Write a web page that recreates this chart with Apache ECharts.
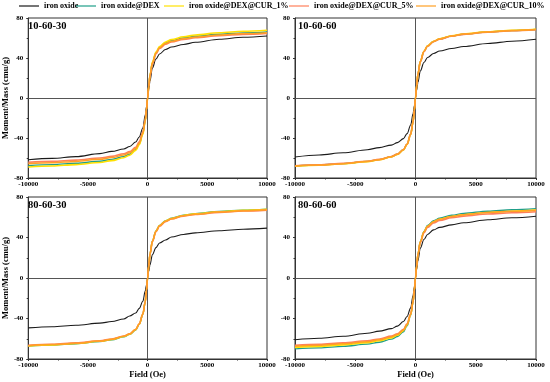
<!DOCTYPE html>
<html>
<head>
<meta charset="utf-8">
<script src="https://cdn.jsdelivr.net/npm/echarts@6/dist/echarts.min.js"></script>
<style>html,body{margin:0;padding:0;background:#fff}#c{width:550px;height:382px}</style>
</head>
<body>
<div id="c"></div>
<script>
const seriesNames = ['iron oxide','iron oxide@DEX','iron oxide@DEX@CUR_1%','iron oxide@DEX@CUR_5%','iron oxide@DEX@CUR_10%'];
const panelTitles = ['10-60-30','10-60-60','80-60-30','80-60-60'];
const xTicks = [-10000,-5000,0,5000,10000];
const yTicks = [-80,-40,0,40,80];
const field = [-10000,-8000,-6000,-4000,-3000,-2000,-1500,-1000,-700,-400,-200,-100,0,100,200,400,700,1000,1500,2000,3000,4000,6000,8000,10000];

// Panel 10-60-30
const p1_iron  = [-61.8,-60.4,-58.6,-55.6,-53.4,-51,-48.5,-44,-39,-30,-17,-9,0,9,17,30,39,44,48.5,51,53.5,55.7,58.8,60.7,62];
const p1_dex   = [-67.6,-66.6,-65.2,-63.2,-61.4,-58.6,-56.2,-51.5,-46,-35.5,-23,-12,0,12,23,35,45,50.5,55,57.3,60,61.7,63.8,65.1,66];
const p1_cur1  = [-69,-68,-66.6,-64.5,-62.6,-59.7,-57.2,-52.4,-46.8,-36.5,-23.5,-12,0,12,23.5,36,46,51.5,56,58.5,61.2,63,65.2,66.7,67.8];
const p1_cur5  = [-64.3,-63.4,-62.1,-60,-58.4,-55.8,-53.6,-49.3,-43.8,-34,-22,-11.5,0,11.5,22,34,44,49.5,53.8,56,58.6,60.2,62.3,63.6,64.5];
const p1_cur10 = [-65.7,-64.8,-63.4,-61.3,-59.6,-57.1,-54.8,-50.5,-45.2,-35.2,-23,-12,0,12,23,35,45,50.3,54.5,56.8,59.3,60.9,63,64.4,65.3];

// Panel 10-60-60
const p2_iron  = [-59,-57,-54.8,-51.7,-49.6,-47.1,-44.6,-40.6,-35.6,-27,-15.5,-8,0,8,15.5,27,35.5,40.5,44.5,47,49.5,51.5,54.5,56.8,58.7];
const p2_dex   = [-68,-67,-65.6,-63.4,-61.6,-58.7,-56.2,-51.7,-46.2,-36.3,-24,-12.5,0,12.5,24,36.5,46.5,52,56.5,59,62,63.8,66,67.4,68.5];
const p2_cur1  = [-68.2,-67.2,-65.8,-63.6,-61.8,-58.9,-56.4,-51.9,-46.4,-36.5,-24.2,-12.6,0,12.6,24.2,36.7,46.7,52.2,56.7,59.2,62.2,64,66.2,67.6,68.7];
const p2_cur5  = [-67.8,-66.8,-65.4,-63.2,-61.4,-58.5,-56,-51.5,-46,-36.1,-23.8,-12.4,0,12.4,23.8,36.3,46.3,51.8,56.3,58.8,61.8,63.6,65.8,67.2,68.3];
const p2_cur10 = [-68.1,-67.1,-65.7,-63.5,-61.7,-58.8,-56.3,-51.8,-46.3,-36.4,-24.1,-12.5,0,12.5,24.1,36.6,46.6,52.1,56.6,59.1,62.1,63.9,66.1,67.5,68.6];

// Panel 80-60-30
const p3_iron  = [-49.3,-48.2,-46.7,-44.6,-43,-40.5,-37.5,-34.5,-30,-23,-13,-7,0,7,13,23,30,34.5,37.5,40.5,43,44.6,46.7,48.2,49.3];
const p3_dex   = [-67.3,-66.3,-64.9,-62.8,-61,-58.1,-55.7,-51.3,-45.8,-36,-23.8,-12.4,0,12.5,24,36.5,46.5,52,56.5,59,62,63.6,65.7,67,68];
const p3_cur1  = [-67,-66,-64.6,-62.5,-60.7,-57.8,-55.4,-51,-45.6,-35.8,-23.7,-12.3,0,12.4,23.9,36.3,46.3,51.8,56.3,58.8,61.8,63.4,65.5,66.8,67.8];
const p3_cur5  = [-66.5,-65.5,-64.1,-62,-60.2,-57.3,-55,-50.6,-45.2,-35.5,-23.5,-12.2,0,12.3,23.6,36,45.8,51.2,55.7,58.2,61.1,62.7,64.8,66.1,67];
const p3_cur10 = [-66.8,-65.8,-64.4,-62.3,-60.5,-57.6,-55.2,-50.8,-45.4,-35.7,-23.6,-12.3,0,12.4,23.8,36.2,46,51.5,56,58.5,61.4,63,65.1,66.4,67.4];

// Panel 80-60-60
const p4_iron  = [-61,-59.5,-57.6,-54.6,-52.5,-50,-47.5,-43,-38,-29.5,-17,-9,0,9,17,29.5,38,43,47.5,50,52.5,54.6,57.6,59.5,61];
const p4_dex   = [-70,-69,-67.5,-65.3,-63.4,-60.4,-57.8,-53.1,-47.3,-36.8,-24,-12.3,0,12,23.5,36,46,51.8,56.5,59,62,63.8,66,67.4,68.5];
const p4_cur1  = [-68.5,-67.5,-66,-63.8,-62,-59.1,-56.6,-52,-46.4,-36.2,-23.7,-12.2,0,12,23.4,35.7,45.5,51.1,55.6,58,60.8,62.5,64.7,66,67];
const p4_cur5  = [-66.5,-65.5,-64.1,-62,-60.2,-57.4,-55,-50.6,-45.2,-35.4,-23.2,-12,0,11.8,23,35,44.6,50,54.4,56.8,59.5,61.1,63.2,64.5,65.5];
const p4_cur10 = [-67.5,-66.5,-65,-62.9,-61.1,-58.2,-55.8,-51.3,-45.8,-35.8,-23.5,-12.1,0,12,23.4,35.7,45.5,51.1,55.6,58,60.8,62.5,64.7,66,67];

const panels = [
  [p1_iron,p1_dex,p1_cur1,p1_cur5,p1_cur10],
  [p2_iron,p2_dex,p2_cur1,p2_cur5,p2_cur10],
  [p3_iron,p3_dex,p3_cur1,p3_cur5,p3_cur10],
  [p4_iron,p4_dex,p4_cur1,p4_cur5,p4_cur10]
];

const colors = ['#1a1a1a','#1f9e89','#ffe100','#ff7f5a','#ffa024'];
const widths = [1.1,1.4,1.6,1.6,1.5];
const legendLeft = [19, 76, 164, 289, 416];
const FONT = '"Liberation Serif","Times New Roman",serif';

const grids = [
  {left:25, top:18, width:242, height:160},
  {left:295, top:18, width:241, height:160},
  {left:25, top:197, width:242, height:162},
  {left:295, top:197, width:241, height:162}
];

const xAxes = [], yAxes = [], series = [], titles = [];
grids.forEach((g,i)=>{
  g.show = true; g.borderColor = '#333'; g.borderWidth = 1; g.backgroundColor = 'transparent';
  xAxes.push({
    gridIndex:i, type:'value', min:xTicks[0], max:xTicks[xTicks.length-1], interval:xTicks[1]-xTicks[0],
    axisLine:{onZero:false, lineStyle:{color:'#333', width:1}},
    axisTick:{show:true, inside:false, length:2, lineStyle:{color:'#333'}},
    minorTick:{show:true, splitNumber:2, length:1.5, lineStyle:{color:'#333'}},
    splitLine:{show:false},
    axisLabel:{color:'#000', fontFamily:FONT, fontWeight:'bold', fontSize:7, margin:3, formatter: v => String(v)},
    name: i>=2 ? 'Field (Oe)' : '', nameLocation:'middle', nameGap:9,
    nameTextStyle:{color:'#000', fontFamily:FONT, fontWeight:'bold', fontSize:8.5}
  });
  yAxes.push({
    gridIndex:i, type:'value', min:yTicks[0], max:yTicks[yTicks.length-1], interval:yTicks[1]-yTicks[0],
    axisLine:{onZero:false, lineStyle:{color:'#333', width:1}},
    axisTick:{show:true, inside:false, length:2, lineStyle:{color:'#333'}},
    minorTick:{show:true, splitNumber:2, length:1.5, lineStyle:{color:'#333'}},
    splitLine:{show:false},
    axisLabel:{color:'#000', fontFamily:FONT, fontWeight:'bold', fontSize:7, margin:5, formatter: v => String(v)},
    name: (i%2===0) ? 'Moment/Mass (cmu/g)' : '', nameLocation:'middle', nameGap:16,
    nameTextStyle:{color:'#000', fontFamily:FONT, fontWeight:'bold', fontSize:8.5}
  });
  titles.push({
    text: panelTitles[i], left: g.left+3, top: g.top+3, padding:0,
    textStyle:{color:'#000', fontFamily:FONT, fontWeight:'bold', fontSize:10.5}
  });
  panels[i].forEach((vals,k)=>{
    const s = {
      name: seriesNames[k], type:'line', xAxisIndex:i, yAxisIndex:i,
      data: field.map((h,j)=>[h, vals[j]]),
      symbol:'none', smooth:0.35, smoothMonotone:'x',
      lineStyle:{color:colors[k], width:widths[k]}, itemStyle:{color:colors[k]},
      z: 3 + k, animation:false
    };
    if (k===0) {
      s.markLine = {
        silent:true, symbol:['none','none'], label:{show:false}, animation:false,
        lineStyle:{color:'#555', width:1, type:'solid'},
        data:[{xAxis:0},{yAxis:0}]
      };
      s.z = 3;
    }
    series.push(s);
  });
});

const legends = seriesNames.map((n,k)=>({
  data:[n], top:2, left:legendLeft[k], icon:'rect', itemWidth:20, itemHeight:1.2,
  padding:0, itemGap:0, selectedMode:false,
  textStyle:{color:'#000', fontFamily:FONT, fontWeight:'bold', fontSize:8}
}));

const chart = echarts.init(document.getElementById('c'), null, {renderer:'canvas'});
chart.setOption({
  backgroundColor:'#fff',
  animation:false,
  title: titles,
  legend: legends,
  grid: grids,
  xAxis: xAxes,
  yAxis: yAxes,
  series: series
});
</script>
</body>
</html>
